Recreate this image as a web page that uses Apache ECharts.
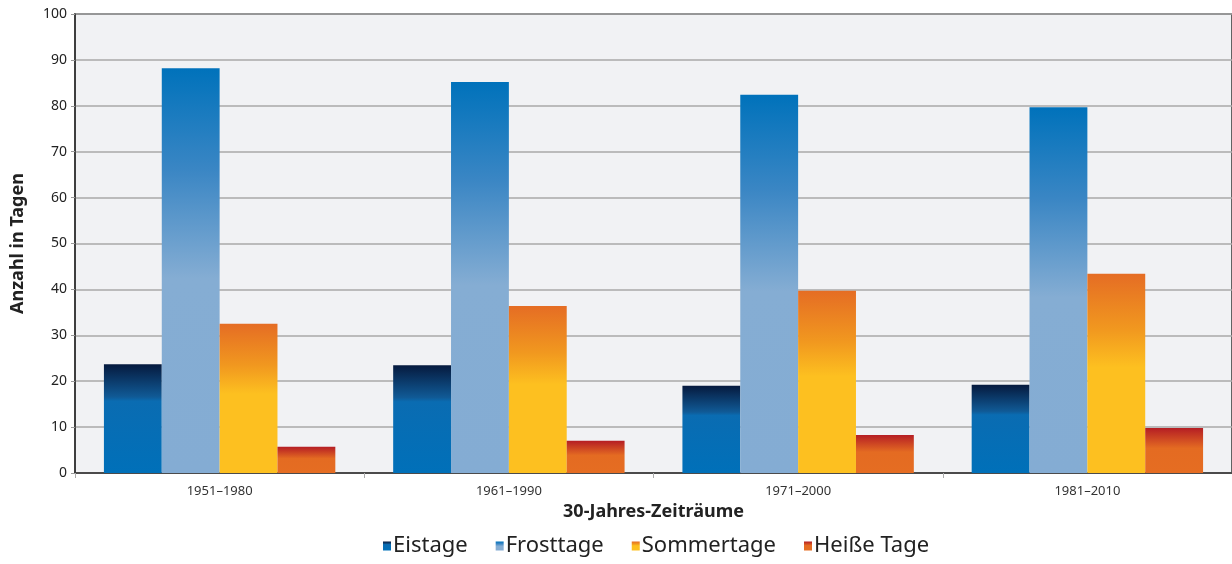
<!DOCTYPE html>
<html>
<head>
<meta charset="utf-8">
<script src="https://cdn.jsdelivr.net/npm/echarts@6/dist/echarts.min.js"></script>
<style>
html,body{margin:0;padding:0;background:#ffffff;}
#chart{width:1232px;height:564px;}
</style>
</head>
<body>
<div id="chart"></div>
<script>
const categories = ['1951–1980', '1961–1990', '1971–2000', '1981–2010'];
const eistage = [23.7, 23.5, 19.0, 19.2];
const frosttage = [88.2, 85.2, 82.4, 79.7];
const sommertage = [32.5, 36.4, 39.7, 43.4];
const heisseTage = [5.7, 7.0, 8.3, 9.8];
const seriesNames = ['Eistage', 'Frosttage', 'Sommertage', 'Heiße Tage'];
const yTicks = [0, 10, 20, 30, 40, 50, 60, 70, 80, 90, 100];

function grad(stops) {
  return new echarts.graphic.LinearGradient(0, 0, 0, 1,
    stops.map(s => ({offset: s[0], color: s[1]})));
}
const colors = [
  grad([[0, '#061a3e'], [0.30, '#105a96'], [0.34, '#0a6cb2'], [1, '#0070b9']]),
  grad([[0, '#0072bb'], [0.25, '#3a86c4'], [0.52, '#85add3'], [1, '#84acd3']]),
  grad([[0, '#e56d24'], [0.28, '#f1981f'], [0.47, '#fdc020'], [1, '#fdc020']]),
  grad([[0, '#b51e24'], [0.45, '#e46b22'], [1, '#e56d22']])
];
const dataSets = [eistage, frosttage, sommertage, heisseTage];

const chart = echarts.init(document.getElementById('chart'), null, {renderer: 'canvas'});
chart.setOption({
  animation: false,
  backgroundColor: '#ffffff',
  textStyle: {fontFamily: 'Noto Sans'},
  grid: {
    left: 75, right: -3, top: 14, bottom: 91,
    show: true, backgroundColor: '#f1f2f4', borderColor: '#333333', borderWidth: 1.5
  },
  legend: {
    bottom: 2, left: 378,
    itemWidth: 8, itemHeight: 9, itemGap: 28,
    icon: 'rect',
    textStyle: {fontSize: 22, color: '#222', fontFamily: 'Noto Sans', padding: [0, 0, 0, -3]},
    data: seriesNames
  },
  xAxis: {
    type: 'category',
    data: categories,
    name: '30-Jahres-Zeiträume',
    nameLocation: 'middle',
    nameGap: 22,
    nameTextStyle: {fontSize: 18, fontWeight: 'bold', color: '#222'},
    axisLine: {lineStyle: {color: '#333', width: 1.5}},
    axisTick: {show: true, length: 5, lineStyle: {color: '#aaa'}},
    axisLabel: {fontSize: 13, color: '#333', margin: 12}
  },
  yAxis: {
    type: 'value',
    min: 0, max: 100, interval: 10,
    name: 'Anzahl in Tagen',
    nameLocation: 'middle',
    nameGap: 48,
    nameTextStyle: {fontSize: 18, fontWeight: 'bold', color: '#222'},
    axisLine: {show: true, lineStyle: {color: '#333', width: 1.5}},
    axisTick: {show: true, length: 4, lineStyle: {color: '#999'}},
    axisLabel: {fontSize: 14, color: '#222', margin: 8,
      formatter: v => yTicks.includes(v) ? String(v) : ''},
    splitLine: {show: true, lineStyle: {color: '#a8a8a8', width: 1.5}}
  },
  series: seriesNames.map((n, i) => ({
    name: n,
    type: 'bar',
    data: dataSets[i],
    barGap: '0%',
    barCategoryGap: '20%',
    itemStyle: {color: colors[i]}
  }))
});
</script>
</body>
</html>
